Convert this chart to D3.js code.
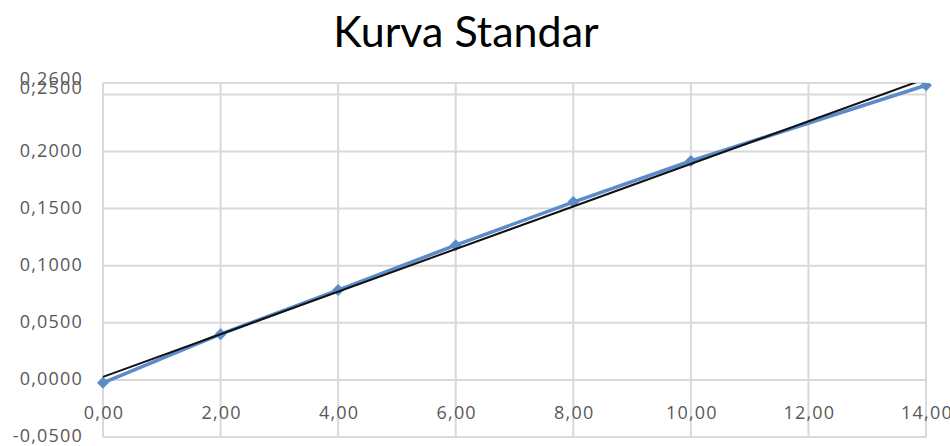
<!DOCTYPE html>
<meta charset="utf-8">
<style>
    body { margin: 0; background: #fff; }
    svg { display: block; }
    .grid line { stroke: #d9d9d9; stroke-width: 2px; }
    .tick-label { fill: #595959; font-family: "Open Sans", sans-serif; font-size: 18px; letter-spacing: 1.2px; }
    .title { fill: #000; font-family: Lato, "Open Sans", sans-serif; font-size: 43px; }
</style>
<body>
<script src="https://d3js.org/d3.v7.min.js"></script>
<script>
    // data
    var konsentrasi = [0, 2, 4, 6, 8, 10, 14];
    var absorbansi = [-0.0026, 0.0400, 0.0787, 0.1180, 0.1557, 0.1917, 0.2580];
    var xTicks = [0, 2, 4, 6, 8, 10, 12, 14];
    var yTicks = [-0.05, 0, 0.05, 0.10, 0.15, 0.20, 0.25, 0.26];

    var width = 950, height = 446;
    var plotL = 103, plotR = 926, plotT = 83, plotB = 437;

    var svg = d3.select('body').append('svg')
        .attr('width', width)
        .attr('height', height);

    var x = d3.scaleLinear().domain([0, 14]).range([plotL, plotR]);
    var y = d3.scaleLinear().domain([-0.05, 0.26]).range([plotB, plotT]);

    var fmtY = function (v) { return d3.format('.4f')(v).replace('.', ',').replace('\u2212', '-'); };
    var fmtX = function (v) { return d3.format('.2f')(v).replace('.', ','); };

    svg.append('text')
        .attr('class', 'title')
        .attr('x', 466)
        .attr('y', 47)
        .attr('text-anchor', 'middle')
        .text('Kurva Standar');

    var grid = svg.append('g').attr('class', 'grid');
    grid.selectAll('.h').data(yTicks).enter().append('line')
        .attr('x1', plotL).attr('x2', plotR)
        .attr('y1', function (d) { return y(d); })
        .attr('y2', function (d) { return y(d); });
    grid.selectAll('.v').data(xTicks).enter().append('line')
        .attr('x1', function (d) { return x(d); })
        .attr('x2', function (d) { return x(d); })
        .attr('y1', plotT).attr('y2', plotB);

    // y labels (top two overlap like in excel)
    svg.selectAll('.ylab').data(yTicks).enter().append('text')
        .attr('class', 'tick-label')
        .attr('x', plotL - 20)
        .attr('y', function (d) {
            var off = d === 0.26 ? -4 : (d === 0.25 ? -7 : -1);
            return y(d) + off;
        })
        .attr('dy', '0.35em')
        .attr('text-anchor', 'end')
        .text(fmtY);

    // x labels sit under the zero line
    svg.selectAll('.xlab').data(xTicks).enter().append('text')
        .attr('class', 'tick-label')
        .attr('x', function (d) { return x(d) + 1; })
        .attr('y', y(0) + 33)
        .attr('dy', '0.35em')
        .attr('text-anchor', 'middle')
        .text(fmtX);

    svg.append('clipPath').attr('id', 'plot')
        .append('rect')
        .attr('x', plotL - 10).attr('y', plotT)
        .attr('width', plotR - plotL + 20).attr('height', bottomPad());

    function bottomPad() { return plotB - plotT; }

    var pts = konsentrasi.map(function (k, i) { return [k, absorbansi[i]]; });

    var line = d3.line()
        .x(function (d) { return x(d[0]); })
        .y(function (d) { return y(d[1]); });

    var serie = svg.append('g').attr('clip-path', 'url(#plot)');

    serie.append('path')
        .datum(pts)
        .attr('fill', 'none')
        .attr('stroke', '#5b8bc9')
        .attr('stroke-width', 3.5)
        .attr('d', line);

    serie.selectAll('.marker').data(pts).enter().append('path')
        .attr('d', d3.symbol().type(d3.symbolSquare).size(72))
        .attr('transform', function (d) { return 'translate(' + x(d[0]) + ',' + y(d[1]) + ') rotate(45)'; })
        .attr('fill', '#5b8bc9');

    // linear trendline (least squares)
    var mx = d3.mean(konsentrasi), my = d3.mean(absorbansi);
    var sxy = d3.sum(pts, function (d) { return (d[0] - mx) * (d[1] - my); });
    var sxx = d3.sum(pts, function (d) { return (d[0] - mx) * (d[0] - mx); });
    var slope = sxy / sxx, icpt = my - slope * mx;

    serie.append('path')
        .datum([[0, icpt], [14, icpt + slope * 14]])
        .attr('fill', 'none')
        .attr('stroke', '#111')
        .attr('stroke-width', 2)
        .attr('d', line);
</script>
</body>
